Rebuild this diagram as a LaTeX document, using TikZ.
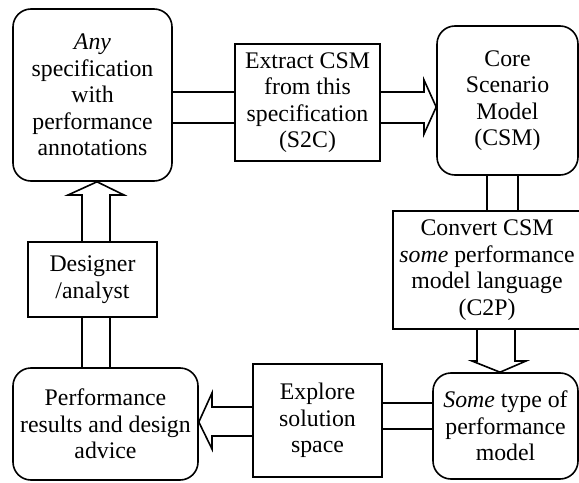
\documentclass[tikz,border=0pt]{standalone}
\usepackage{fontspec}
\setmainfont{Liberation Serif}
\usetikzlibrary{backgrounds}
\begin{document}
\begin{tikzpicture}[x=1bp,y=-1bp,line width=1.6bp,
  box/.style={draw,fill=white,align=center,inner sep=0pt,line width=1.6bp,
    font=\fontsize{23.8bp}{26.5bp}\selectfont},
  rbox/.style={box,rounded corners=18bp},
  barrow/.style={draw=black,fill=white,line width=1.6bp,line join=miter}]
\useasboundingbox (0,0) rectangle (579,483);
\clip (0,0) rectangle (579,483);
% nodes
\node[rbox,minimum width=159bp,minimum height=172bp] (tl) at (92.5,95)
  {\textit{Any}\\specification\\with\\performance\\annotations};
\node[box,minimum width=145bp,minimum height=117bp] (s2c) at (307.5,102.5)
  {Extract CSM\\from this\\specification\\(S2C)};
\node[rbox,minimum width=141bp,minimum height=149bp] (csm) at (507.5,100.5)
  {Core\\Scenario\\Model\\(CSM)};
\node[box,minimum width=188bp,minimum height=118bp] (c2p) at (487,270)
  {Convert CSM\\\textit{some} performance\\model language\\(C2P)};
\node[rbox,minimum width=145bp,minimum height=106bp] (st) at (505.5,426)
  {\textit{Some} type of\\performance\\model};
\node[box,minimum width=129bp,minimum height=113bp] (exp) at (317.5,420.5)
  {Explore\\solution\\space};
\node[rbox,minimum width=185bp,minimum height=112bp] (pr) at (105.5,424)
  {Performance\\results and design\\advice};
\node[box,minimum width=129bp,minimum height=75bp] (des) at (92.5,279.5)
  {Designer\\/analyst};
% block arrows
\begin{scope}[on background layer]
  \draw[barrow] (tl.center |- 0,92) -- (424,92) -- (424,80)
    -- (csm.west |- 0,107) -- (424,134) -- (424,123)
    -- (tl.center |- 0,123) -- cycle;
  \draw[barrow] (487,0 |- csm.center) -- (487,270) -- (477,270) -- (477,361)
    -- (472,361) -- (500,0 |- st.north) -- (526,361) -- (515,361)
    -- (515,270) -- (518,270) -- (518,0 |- csm.center) -- cycle;
  \draw[barrow] (st.center |- 0,403) -- (320,403) -- (320,407) -- (212,407)
    -- (212,393) -- (pr.east |- 0,422) -- (212,449) -- (212,436)
    -- (320,436) -- (320,429) -- (st.center |- 0,429) -- cycle;
  \draw[barrow] (82,0 |- pr.center) -- (82,195) -- (68,195)
    -- (97,0 |- tl.south) -- (124,195) -- (110,195)
    -- (110,0 |- pr.center) -- cycle;
\end{scope}
\end{tikzpicture}
\end{document}
